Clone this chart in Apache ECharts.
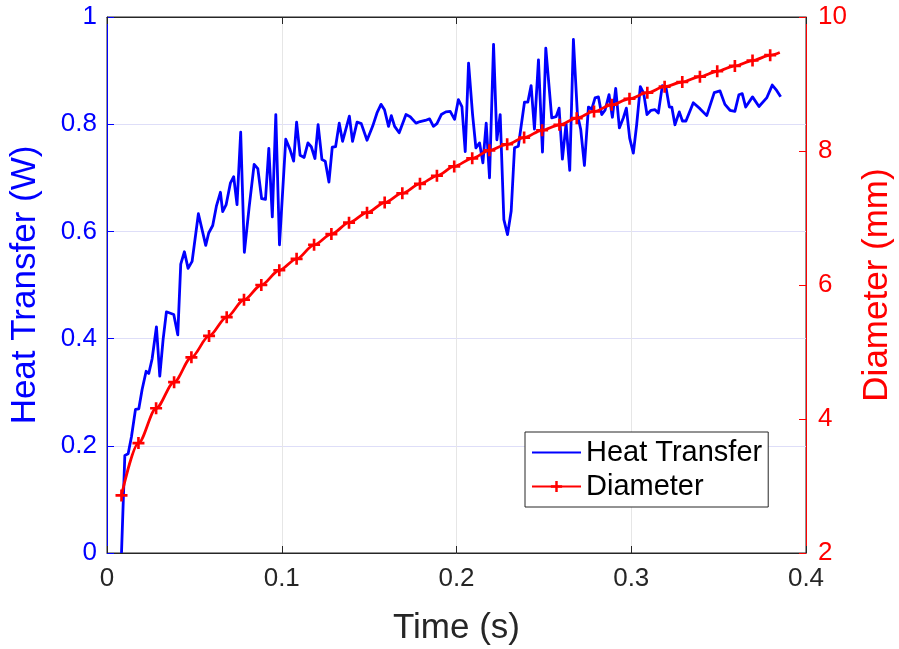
<!DOCTYPE html>
<html>
<head>
<meta charset="utf-8">
<script src="https://cdn.jsdelivr.net/npm/echarts@6/dist/echarts.min.js"></script>
<style>
  html, body { margin: 0; padding: 0; background: #ffffff; }
  #chart { width: 899px; height: 649px; }
</style>
</head>
<body>
<div id="chart"></div>
<script>
// Heat transfer samples (time in s, power in W)
const heatTime = [
  0.0083, 0.0102, 0.0121, 0.0140, 0.0163, 0.0182, 0.0201, 0.0224, 0.0239, 0.0258,
  0.0283, 0.0302, 0.0321, 0.0340, 0.0382, 0.0405, 0.0422, 0.0443, 0.0464, 0.0487,
  0.0523, 0.0565, 0.0582, 0.0605, 0.0626, 0.0649, 0.0662, 0.0682, 0.0706, 0.0725,
  0.0744, 0.0765, 0.0786, 0.0813, 0.0842, 0.0863, 0.0885, 0.0907, 0.0926, 0.0946,
  0.0966, 0.0987, 0.1023, 0.1047, 0.1068, 0.1085, 0.1105, 0.1128, 0.1150, 0.1169,
  0.1190, 0.1208, 0.1230, 0.1249, 0.1270, 0.1289, 0.1308, 0.1329, 0.1348, 0.1387,
  0.1405, 0.1431, 0.1455, 0.1488, 0.1520, 0.1545, 0.1568, 0.1588, 0.1611, 0.1627,
  0.1646, 0.1672, 0.1711, 0.1735, 0.1768, 0.1792, 0.1821, 0.1846, 0.1868, 0.1888,
  0.1913, 0.1939, 0.1964, 0.1989, 0.2011, 0.2031, 0.2050, 0.2069, 0.2092, 0.2111,
  0.2132, 0.2151, 0.2170, 0.2189, 0.2212, 0.2231, 0.2250, 0.2271, 0.2292, 0.2313,
  0.2332, 0.2354, 0.2389, 0.2408, 0.2427, 0.2446, 0.2469, 0.2492, 0.2511, 0.2545,
  0.2570, 0.2587, 0.2606, 0.2627, 0.2648, 0.2669, 0.2692, 0.2711, 0.2732, 0.2755,
  0.2774, 0.2793, 0.2812, 0.2831, 0.2850, 0.2873, 0.2892, 0.2911, 0.2932, 0.2955,
  0.2972, 0.2991, 0.3012, 0.3031, 0.3052, 0.3071, 0.3090, 0.3113, 0.3136, 0.3155,
  0.3178, 0.3199, 0.3218, 0.3232, 0.3250, 0.3275, 0.3293, 0.3313, 0.3355, 0.3393,
  0.3432, 0.3475, 0.3508, 0.3536, 0.3565, 0.3593, 0.3616, 0.3635, 0.3655, 0.3694,
  0.3731, 0.3775, 0.3807, 0.3832, 0.3855
];
const heatValue = [
  0.000, 0.182, 0.185, 0.217, 0.268, 0.269, 0.305, 0.339, 0.335, 0.362,
  0.422, 0.330, 0.398, 0.450, 0.445, 0.407, 0.539, 0.562, 0.531, 0.544,
  0.633, 0.574, 0.597, 0.611, 0.647, 0.673, 0.637, 0.650, 0.690, 0.702,
  0.650, 0.785, 0.561, 0.644, 0.725, 0.717, 0.661, 0.660, 0.755, 0.627,
  0.818, 0.575, 0.772, 0.753, 0.731, 0.804, 0.742, 0.738, 0.765, 0.758,
  0.736, 0.799, 0.734, 0.731, 0.692, 0.757, 0.758, 0.802, 0.768, 0.815,
  0.768, 0.804, 0.801, 0.770, 0.796, 0.821, 0.837, 0.827, 0.796, 0.816,
  0.796, 0.784, 0.818, 0.814, 0.802, 0.805, 0.807, 0.810, 0.796, 0.801,
  0.818, 0.823, 0.824, 0.809, 0.846, 0.833, 0.749, 0.914, 0.818, 0.756,
  0.765, 0.728, 0.802, 0.700, 0.949, 0.771, 0.818, 0.622, 0.594, 0.638,
  0.756, 0.759, 0.841, 0.841, 0.872, 0.791, 0.920, 0.748, 0.942, 0.812,
  0.814, 0.830, 0.735, 0.801, 0.714, 0.958, 0.818, 0.790, 0.723, 0.832,
  0.828, 0.849, 0.851, 0.818, 0.826, 0.855, 0.813, 0.867, 0.793, 0.812,
  0.830, 0.774, 0.746, 0.799, 0.870, 0.858, 0.818, 0.826, 0.827, 0.821,
  0.872, 0.868, 0.832, 0.832, 0.799, 0.823, 0.806, 0.806, 0.840, 0.829,
  0.816, 0.859, 0.862, 0.837, 0.826, 0.824, 0.855, 0.857, 0.832, 0.851,
  0.833, 0.849, 0.873, 0.863, 0.851
];

// Bubble diameter (time in s, diameter in mm); last sample carries no marker
const diamTime = [
  0.0083, 0.0180, 0.0281, 0.0384, 0.0483, 0.0584, 0.0685, 0.0784, 0.0883, 0.0986,
  0.1085, 0.1185, 0.1284, 0.1385, 0.1488, 0.1589, 0.1690, 0.1791, 0.1888, 0.1987,
  0.2090, 0.2188, 0.2290, 0.2387, 0.2490, 0.2589, 0.2688, 0.2787, 0.2888, 0.2990,
  0.3092, 0.3191, 0.3292, 0.3393, 0.3492, 0.3593, 0.3694, 0.3795, 0.3850
];
const diamValue = [
  2.86, 3.64, 4.16, 4.55, 4.92, 5.24, 5.52, 5.78, 6.00, 6.22,
  6.39, 6.60, 6.76, 6.93, 7.08, 7.23, 7.37, 7.51, 7.63, 7.77,
  7.89, 8.01, 8.10, 8.20, 8.31, 8.39, 8.49, 8.59, 8.69, 8.78,
  8.87, 8.96, 9.03, 9.11, 9.19, 9.27, 9.35, 9.43, 9.47
];

// Axis ranges and tick spacing
const timeAxis = { min: 0, max: 0.4, step: 0.1 };
const heatAxis = { min: 0, max: 1, step: 0.2 };
const diamAxis = { min: 2, max: 10, step: 2 };

const FONT = 'Liberation Sans, Arial, Helvetica, sans-serif';
const INK = '#262626';
const BLUE = '#0000ff';
const RED = '#ff0000';
const PLUS = 'path://M-1,-0.22H-0.22V-1H0.22V-0.22H1V0.22H0.22V1H-0.22V0.22H-1Z';
const TICK_SIZE = 26;
const TITLE_SIZE = 35;
const LEGEND_SIZE = 29;

const heatData = heatTime.map((t, i) => [t, heatValue[i]]);
const diamData = diamTime.map((t, i) => {
  const item = { value: [t, diamValue[i]] };
  if (i === diamTime.length - 1) item.symbol = 'none';
  return item;
});

const chart = echarts.init(document.getElementById('chart'), null, { renderer: 'canvas' });

chart.setOption({
  animation: false,
  backgroundColor: '#ffffff',
  textStyle: { fontFamily: FONT },
  grid: {
    left: 107, right: 93, top: 17, bottom: 96,
    outerBoundsMode: 'none', containLabel: false,
    show: true, borderColor: INK, borderWidth: 1, backgroundColor: '#ffffff'
  },
  legend: {
    data: [
      { name: 'Heat Transfer', itemStyle: { opacity: 0 } },
      { name: 'Diameter' }
    ],
    orient: 'vertical',
    left: 525, top: 432,
    backgroundColor: '#ffffff',
    borderColor: INK, borderWidth: 1, borderRadius: 0,
    padding: [6, 6, 6, 6],
    itemWidth: 49, itemHeight: 14, itemGap: 5,
    textStyle: { fontFamily: FONT, fontSize: LEGEND_SIZE, color: '#000000' }
  },
  xAxis: [
    {
      type: 'value', position: 'bottom',
      min: timeAxis.min, max: timeAxis.max, interval: timeAxis.step,
      name: 'Time (s)', nameLocation: 'middle', nameGap: 58,
      nameTextStyle: { fontFamily: FONT, fontSize: TITLE_SIZE, color: INK },
      axisLine: { show: true, onZero: false, lineStyle: { color: INK, width: 1 } },
      axisTick: { show: true, inside: true, length: 7, lineStyle: { color: INK } },
      axisLabel: { color: INK, fontSize: TICK_SIZE, fontFamily: FONT, margin: 13 },
      splitLine: { show: true, lineStyle: { color: '#e6e6e6', width: 1 } }
    },
    {
      type: 'value', position: 'top',
      min: timeAxis.min, max: timeAxis.max, interval: timeAxis.step,
      axisLine: { show: true, onZero: false, lineStyle: { color: INK, width: 1 } },
      axisTick: { show: true, inside: true, length: 7, lineStyle: { color: INK } },
      axisLabel: { show: false },
      splitLine: { show: false }
    }
  ],
  yAxis: [
    {
      type: 'value', position: 'left',
      min: heatAxis.min, max: heatAxis.max, interval: heatAxis.step,
      name: 'Heat Transfer (W)', nameLocation: 'middle', nameGap: 64, nameRotate: 90,
      nameTextStyle: { fontFamily: FONT, fontSize: TITLE_SIZE, color: BLUE },
      axisLine: { show: true, onZero: false, lineStyle: { color: BLUE, width: 1 } },
      axisTick: { show: true, inside: true, length: 7, lineStyle: { color: BLUE } },
      axisLabel: { color: BLUE, fontSize: TICK_SIZE, fontFamily: FONT, margin: 10 },
      splitLine: { show: true, lineStyle: { color: '#dedef8', width: 1 } }
    },
    {
      type: 'value', position: 'right',
      min: diamAxis.min, max: diamAxis.max, interval: diamAxis.step,
      name: 'Diameter (mm)', nameLocation: 'middle', nameGap: 54, nameRotate: 90,
      nameTextStyle: { fontFamily: FONT, fontSize: TITLE_SIZE, color: RED },
      axisLine: { show: true, onZero: false, lineStyle: { color: RED, width: 1 } },
      axisTick: { show: true, inside: true, length: 7, lineStyle: { color: RED } },
      axisLabel: { color: RED, fontSize: TICK_SIZE, fontFamily: FONT, margin: 12 },
      splitLine: { show: false }
    }
  ],
  series: [
    {
      name: 'Heat Transfer', type: 'line',
      xAxisIndex: 0, yAxisIndex: 0,
      data: heatData,
      symbol: 'none', showSymbol: false,
      lineStyle: { color: BLUE, width: 2.8, join: 'round' },
      itemStyle: { color: BLUE },
      z: 3
    },
    {
      name: 'Diameter', type: 'line',
      xAxisIndex: 0, yAxisIndex: 1,
      data: diamData,
      smooth: 0.3, smoothMonotone: 'x',
      symbol: PLUS, symbolSize: 12, showAllSymbol: true,
      lineStyle: { color: RED, width: 2.8 },
      itemStyle: { color: RED },
      z: 4
    }
  ]
});
</script>
</body>
</html>
